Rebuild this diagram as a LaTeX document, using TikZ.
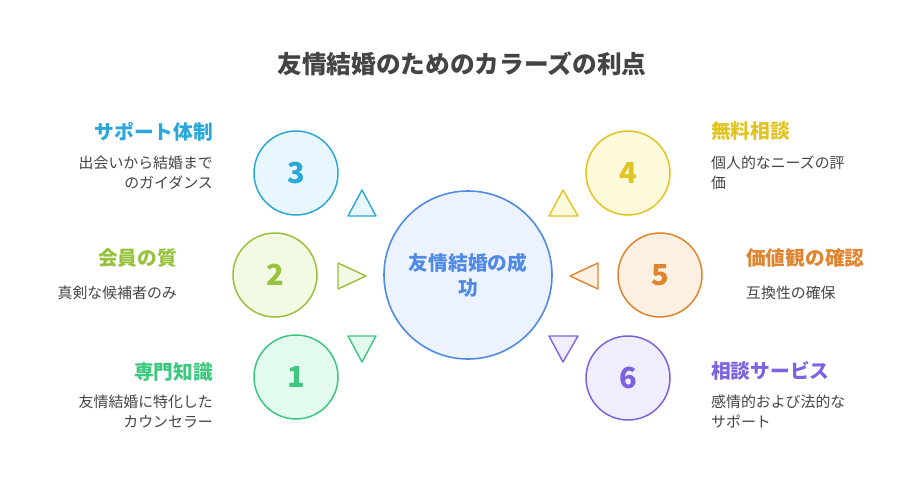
\documentclass[tikz,border=0pt]{standalone}
\usepackage{fontspec}
\setmainfont{Noto Sans CJK JP}
\usetikzlibrary{positioning}

\definecolor{inkgray}{HTML}{444444}
\definecolor{hubline}{HTML}{4F8BE6}
\definecolor{hubfill}{HTML}{ECF3FE}
\definecolor{cyanline}{HTML}{2AA8DA}
\definecolor{cyanfill}{HTML}{E7F7FD}
\definecolor{limeline}{HTML}{97C23D}
\definecolor{limefill}{HTML}{F3FAE4}
\definecolor{mintline}{HTML}{3EC77F}
\definecolor{mintfill}{HTML}{E3FAEE}
\definecolor{sunline}{HTML}{E1C322}
\definecolor{sunfill}{HTML}{FDF9DB}
\definecolor{rustline}{HTML}{E0852F}
\definecolor{rustfill}{HTML}{FDF0E2}
\definecolor{violetline}{HTML}{7E63E0}
\definecolor{violetfill}{HTML}{F0EDFD}

\begin{document}
\begin{tikzpicture}[
    x=1pt, y=-1pt,
    hub/.style={draw=hubline, fill=hubfill, circle, line width=1.6pt,
    minimum size=168pt, inner sep=0pt, text=hubline, align=center,
    font=\fontsize{19.7}{25}\selectfont\bfseries},
    badge/.style={draw=#1line, fill=#1fill, circle, line width=1.5pt,
    minimum size=84pt, inner sep=0pt, text=#1line,
    font=\fontsize{29}{30}\selectfont\bfseries},
    pointer/.style={draw=#1line, fill=#1fill, line width=1.4pt, line join=round},
    head/.style={text=#1line, inner sep=0pt, font=\fontsize{19.7}{22}\selectfont\bfseries},
    body/.style={text=inkgray, inner sep=0pt, font=\fontsize{14.9}{20}\selectfont},
    heading/.style={text=inkgray, inner sep=0pt, font=\fontsize{24.7}{28}\selectfont\bfseries}
    ]
    \useasboundingbox (0,0) rectangle (924,492);

    \node[heading] (title) at (462,64) {友情結婚のためのカラーズの利点};

    \node[hub] (success) at (468,275) {友情結婚の成\\功};

    % left side
    \node[badge=cyan]   (b3) at (296,173) {3};
    \node[badge=lime]   (b2) at (275,275) {2};
    \node[badge=mint]   (b1) at (296,377) {1};

    % right side
    \node[badge=sun]    (b4) at (628,173) {4};
    \node[badge=rust]   (b5) at (660,275) {5};
    \node[badge=violet] (b6) at (628,378) {6};

    % pointers round the hub
    \draw[pointer=cyan]   (348,216) -- (376,216) -- (362,190) -- cycle;
    \draw[pointer=lime]   (338,263) -- (338,289) -- (366,276) -- cycle;
    \draw[pointer=mint]   (348,336) -- (376,336) -- (362,362) -- cycle;
    \draw[pointer=sun]    (549,216) -- (578,216) -- (563,190) -- cycle;
    \draw[pointer=rust]   (598,263) -- (598,289) -- (570,276) -- cycle;
    \draw[pointer=violet] (549,336) -- (578,336) -- (563,362) -- cycle;

    % labels, left
    \node[head=cyan, anchor=east] (h3) at (213,132) {サポート体制};
    \node[body, anchor=east, align=right] (d3) at (213,173)
      {出会いから結婚まで\\のガイダンス};
    \node[head=lime, anchor=east] (h2) at (177,258) {会員の質};
    \node[body, anchor=east] (d2) at (177,293) {真剣な候補者のみ};
    \node[head=mint, anchor=east] (h1) at (213,372) {専門知識};
    \node[body, anchor=east, align=right] (d1) at (213,412)
      {友情結婚に特化した\\カウンセラー};

    % labels, right
    \node[head=sun, anchor=west] (h4) at (711,131) {無料相談};
    \node[body, anchor=west, align=left] (d4) at (711,173)
      {個人的なニーズの評\\価};
    \node[head=rust, anchor=west] (h5) at (746,258) {価値観の確認};
    \node[body, anchor=west] (d5) at (746,293) {互換性の確保};
    \node[head=violet, anchor=west] (h6) at (711,371) {相談サービス};
    \node[body, anchor=west, align=left] (d6) at (711,412)
      {感情的および法的な\\サポート};
\end{tikzpicture}
\end{document}
